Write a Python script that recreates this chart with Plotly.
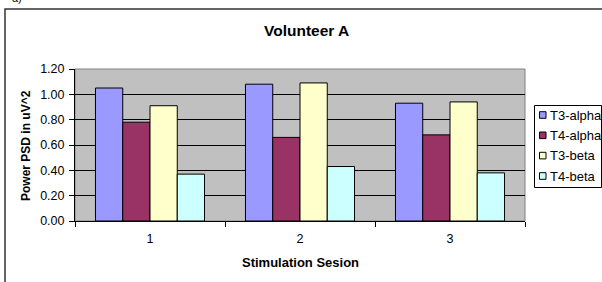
import plotly.graph_objects as go

sessions = ["1", "2", "3"]
series_names = ["T3-alpha", "T4-alpha", "T3-beta", "T4-beta"]
t3_alpha = [1.05, 1.08, 0.93]
t4_alpha = [0.78, 0.66, 0.68]
t3_beta = [0.91, 1.09, 0.94]
t4_beta = [0.37, 0.43, 0.38]
colors = ["#9999FF", "#993366", "#FFFFCC", "#CCFFFF"]
y_ticks = [0.0, 0.2, 0.4, 0.6, 0.8, 1.0, 1.2]

W, H = 602, 282
L, R, T, B = 75, 77, 69, 61
pw, ph = W - L - R, H - T - B


def px_x(x):
    return (x - L) / pw


def px_y(y):
    return 1 - (y - T) / ph


FONT = "Arial, Liberation Sans, sans-serif"

fig = go.Figure()
for name, vals, c in zip(series_names, [t3_alpha, t4_alpha, t3_beta, t4_beta], colors):
    fig.add_trace(go.Bar(x=sessions, y=vals, name=name,
                         marker=dict(color=c, line=dict(color="black", width=1))))

shapes = [
    dict(type="rect", xref="paper", yref="paper", x0=0, x1=1, y0=0, y1=1,
         line=dict(color="#808080", width=1), layer="below"),
    dict(type="rect", xref="paper", yref="paper", x0=px_x(5), x1=px_x(700),
         y0=px_y(400), y1=px_y(9), line=dict(color="#333333", width=1.5)),
    # legend box
    dict(type="rect", xref="paper", yref="paper", x0=px_x(534.5), x1=px_x(601.5),
         y0=px_y(187.5), y1=px_y(105.5), line=dict(color="black", width=1),
         fillcolor="white"),
]
annotations = [
    dict(text="<b>Volunteer A</b>", xref="paper", yref="paper", x=px_x(306), y=px_y(30),
         xanchor="center", yanchor="middle", showarrow=False, font=dict(size=15.5)),
    dict(text="<b>Power PSD in uV^2</b>", xref="paper", yref="paper", x=px_x(26), y=px_y(146),
         xanchor="center", yanchor="middle", showarrow=False, textangle=-90,
         font=dict(size=12)),
    dict(text="<b>Stimulation Sesion</b>", xref="paper", yref="paper", x=px_x(300), y=px_y(262),
         xanchor="center", yanchor="middle", showarrow=False, font=dict(size=13)),
    dict(text="a)", xref="paper", yref="paper", x=px_x(24), y=px_y(6),
         xanchor="right", yanchor="bottom", showarrow=False, font=dict(size=11)),
]

# legend built from the series names/colors
row_y = [115, 135.3, 155.6, 176]
for name, c, yy in zip(series_names, colors, row_y):
    shapes.append(dict(type="rect", xref="paper", yref="paper",
                       x0=px_x(539.5), x1=px_x(546), y0=px_y(yy + 3.3), y1=px_y(yy - 3.3),
                       line=dict(color="black", width=1), fillcolor=c))
    annotations.append(dict(text=name, xref="paper", yref="paper", x=px_x(548), y=px_y(yy),
                            xanchor="left", yanchor="middle", showarrow=False,
                            font=dict(size=13)))

fig.update_layout(
    width=W, height=H,
    margin=dict(l=L, r=R, t=T, b=B, pad=0),
    paper_bgcolor="white",
    plot_bgcolor="#C0C0C0",
    barmode="group",
    bargap=0.273,
    bargroupgap=0,
    font=dict(family=FONT, size=12.5, color="black"),
    showlegend=False,
    hovermode=False,
    xaxis=dict(
        type="category", showline=True, linecolor="black", linewidth=1,
        ticks="outside", tickson="boundaries", ticklen=5, tickcolor="black",
        showgrid=False, tickfont=dict(size=12.5), ticklabelstandoff=6,
    ),
    yaxis=dict(
        range=[0, 1.2], tickvals=y_ticks, tickformat=".2f",
        showline=True, linecolor="black", linewidth=1,
        ticks="outside", ticklen=5, tickcolor="black",
        showgrid=True, gridcolor="black", gridwidth=1,
        zeroline=False, tickfont=dict(size=12.5), ticklabelstandoff=2,
    ),
    shapes=shapes,
    annotations=annotations,
)

fig.write_html("out.html", config={"displayModeBar": False, "staticPlot": True},
               post_script="document.body.style.margin='0';")
